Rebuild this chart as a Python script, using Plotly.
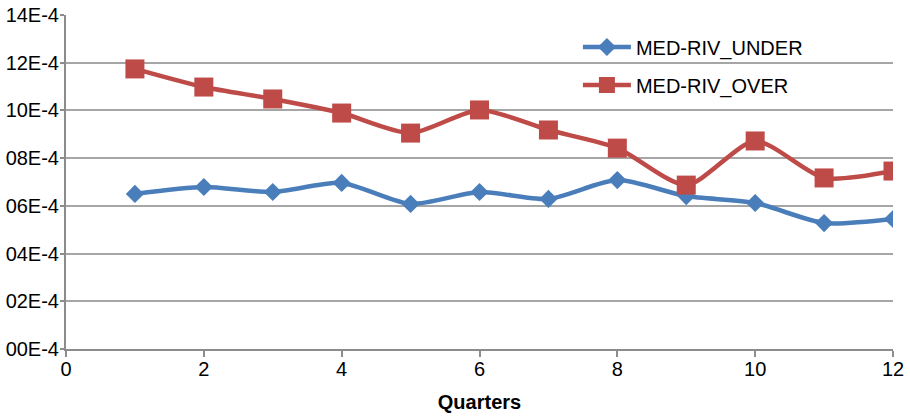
import plotly.graph_objects as go

quarters = [1, 2, 3, 4, 5, 6, 7, 8, 9, 10, 11, 12]
under_vals = [6.50, 6.79, 6.58, 6.96, 6.08, 6.58, 6.29, 7.08, 6.41, 6.12, 5.28, 5.45]
over_vals = [11.74, 10.98, 10.48, 9.89, 9.05, 10.02, 9.18, 8.42, 6.87, 8.72, 7.17, 7.46]
scale = 1e-4
y_tick_vals = [0, 2, 4, 6, 8, 10, 12, 14]
y_tick_text = ["00E-4", "02E-4", "04E-4", "06E-4", "08E-4", "10E-4", "12E-4", "14E-4"]
x_tick_vals = [0, 2, 4, 6, 8, 10, 12]

blue = "#4A7EBB"
red = "#BE4B48"

fig = go.Figure()
fig.add_trace(go.Scatter(
    x=quarters, y=[v * scale for v in under_vals], name="MED-RIV_UNDER",
    mode="lines+markers", legend="legend",
    line=dict(color=blue, width=4.5, shape="spline", smoothing=0.7),
    marker=dict(symbol="diamond", size=14, color=blue),
))
fig.add_trace(go.Scatter(
    x=quarters, y=[v * scale for v in over_vals], name="MED-RIV_OVER",
    mode="lines+markers", legend="legend2",
    line=dict(color=red, width=4.5, shape="spline", smoothing=0.7),
    marker=dict(symbol="square", size=19, color=red),
))

W, H = 910, 417
L, T, R, B = 66, 15, 17, 68
plot_h = H - T - B

leg_common = dict(xanchor="left", yanchor="middle", bgcolor="rgba(0,0,0,0)",
                  font=dict(size=20, color="black"), itemwidth=48,
                  xref="paper", yref="paper")

fig.update_layout(
    width=W, height=H,
    margin=dict(l=L, r=R, t=T, b=B, autoexpand=False),
    paper_bgcolor="white", plot_bgcolor="white",
    font=dict(family="Liberation Sans, Arial, sans-serif", size=20, color="black"),
    showlegend=True,
    legend=dict(x=0.619, y=(plot_h - (47 - T)) / plot_h, **leg_common),
    legend2=dict(x=0.619, y=(plot_h - (85 - T)) / plot_h, **leg_common),
    xaxis=dict(
        range=[0, 12], tickvals=x_tick_vals, showgrid=False, automargin=False,
        showline=True, linecolor="#8C8C8C", linewidth=2,
        ticks="outside", ticklen=6, tickcolor="#8C8C8C", tickwidth=2,
        tickfont=dict(size=20), ticklabelstandoff=-5,
        title=dict(text="<b>Quarters</b>", font=dict(size=20), standoff=16),
        zeroline=False,
    ),
    yaxis=dict(
        range=[0, 14 * scale], tickvals=[v * scale for v in y_tick_vals], ticktext=y_tick_text,
        showgrid=True, gridcolor="#A6A6A6", gridwidth=2, automargin=False,
        showline=True, linecolor="#8C8C8C", linewidth=2,
        ticks="outside", ticklen=4, tickcolor="#8C8C8C", tickwidth=2,
        tickfont=dict(size=20), ticklabelstandoff=-3,
        zeroline=False,
    ),
)

fig.write_html("out.html", config={"displayModeBar": False},
               post_script="document.body.style.margin='0';")
